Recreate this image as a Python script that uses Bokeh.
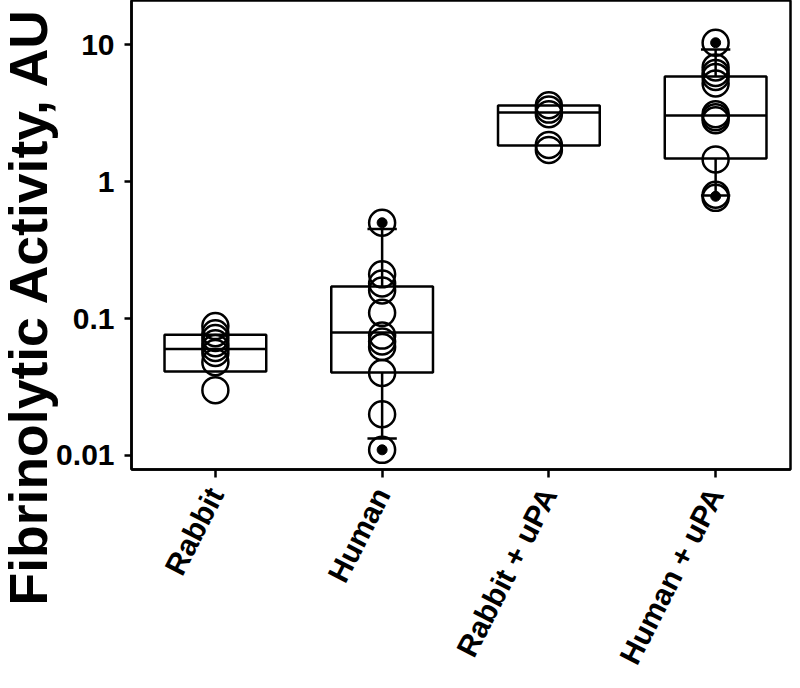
import math
from bokeh.plotting import figure
from bokeh.models import Range1d, FixedTicker, Title
from bokeh.embed import file_html
from bokeh.resources import INLINE

# ---------------- data ----------------
categories = ["Rabbit", "Human", "Rabbit + uPA", "Human + uPA"]

rabbit_pts = [0.088, 0.078, 0.072, 0.066, 0.061, 0.056, 0.048, 0.030]
human_pts = [0.50, 0.21, 0.18, 0.16, 0.11, 0.075, 0.068, 0.062, 0.040, 0.020, 0.011]
rabbit_upa_pts = [3.6, 3.35, 3.1, 1.85, 1.7]
human_upa_pts = [10.3, 6.8, 6.2, 5.8, 5.2, 3.1, 2.95, 2.8, 1.45, 0.80, 0.76]

q1 = [0.041, 0.0403, 1.83, 1.47]
median = [0.060, 0.079, 3.19, 3.03]
q3 = [0.076, 0.171, 3.59, 5.84]
whisker_lo = [None, 0.0133, None, 0.79]
whisker_hi = [None, 0.45, None, 9.2]
outlier_lo = [None, 0.011, None, 0.78]
outlier_hi = [None, 0.50, None, 10.3]

y_ticks = [0.01, 0.1, 1, 10]
y_tick_labels = ["0.01", "0.1", "1", "10"]
y_title = "Fibrinolytic Activity, AU"

# ---------------- figure ----------------
FONT = "Liberation Sans"
p = figure(width=792, height=680, y_axis_type="log",
           x_range=Range1d(0.497, 4.449),
           y_range=Range1d(10 ** -2.1022, 10 ** 1.3212),
           output_backend="svg", toolbar_location=None)
p.min_border_left = 130
p.min_border_right = 2
p.min_border_top = 0
p.min_border_bottom = 211
p.background_fill_color = "white"
p.border_fill_color = "white"
p.outline_line_color = "black"
p.outline_line_width = 2.5
p.xgrid.visible = False
p.ygrid.visible = False

xs = [i + 1 for i in range(len(categories))]
half_w = 0.305
cap_w = 0.088

# boxes
p.quad(left=[x - half_w for x in xs], right=[x + half_w for x in xs],
       bottom=q1, top=q3, fill_color=None, line_color="black", line_width=2.5)
p.segment(x0=[x - half_w for x in xs], x1=[x + half_w for x in xs],
          y0=median, y1=median, line_color="black", line_width=2.5)

# whiskers
wx, wy0, wy1, cx0, cx1, cy = [], [], [], [], [], []
for x, lo, hi, a, b in zip(xs, whisker_lo, whisker_hi, q1, q3):
    if lo is not None:
        wx.append(x); wy0.append(lo); wy1.append(a)
        cx0.append(x - cap_w); cx1.append(x + cap_w); cy.append(lo)
    if hi is not None:
        wx.append(x); wy0.append(b); wy1.append(hi)
        cx0.append(x - cap_w); cx1.append(x + cap_w); cy.append(hi)
p.segment(x0=wx, x1=wx, y0=wy0, y1=wy1, line_color="black", line_width=2.5)
p.segment(x0=cx0, x1=cx1, y0=cy, y1=cy, line_color="black", line_width=2.5)

# points
all_pts = [rabbit_pts, human_pts, rabbit_upa_pts, human_upa_pts]
px, py = [], []
for x, pts in zip(xs, all_pts):
    px += [x] * len(pts)
    py += pts
p.scatter(px, py, size=26, fill_color=None, line_color="black", line_width=2.5)

# outlier dots
ox, oy = [], []
for x, lo, hi in zip(xs, outlier_lo, outlier_hi):
    for v in (lo, hi):
        if v is not None:
            ox.append(x); oy.append(v)
p.scatter(ox, oy, size=10, fill_color="black", line_color="black")

# axes
p.xaxis.ticker = FixedTicker(ticks=xs)
p.xaxis.major_label_overrides = {x: c for x, c in zip(xs, categories)}
p.xaxis.major_label_orientation = math.radians(63)
p.yaxis.ticker = FixedTicker(ticks=y_ticks)
p.yaxis.major_label_overrides = {t: l for t, l in zip(y_ticks, y_tick_labels)}

for ax in (p.xaxis, p.yaxis):
    ax.axis_line_color = "black"
    ax.axis_line_width = 2.5
    ax.major_tick_line_color = "black"
    ax.major_tick_line_width = 2.5
    ax.major_tick_out = 8
    ax.major_tick_in = 0
    ax.minor_tick_line_color = None
    ax.major_label_text_font = FONT
    ax.major_label_text_font_style = "bold"
    ax.major_label_text_color = "black"

p.yaxis.major_tick_out = 7
p.yaxis.major_label_text_font_size = "30px"
p.yaxis.major_label_standoff = 10
p.xaxis.major_label_text_font_size = "30px"
p.xaxis.major_label_standoff = 12

# y-axis title as a side title, shifted down along the axis
t = Title(text=y_title, align="left", vertical_align="bottom",
          offset=-136, standoff=-8,
          text_font=FONT, text_font_style="bold", text_font_size="53.5px",
          text_color="black")
p.add_layout(t, "left")

open("out.html", "w").write(file_html(p, INLINE))
